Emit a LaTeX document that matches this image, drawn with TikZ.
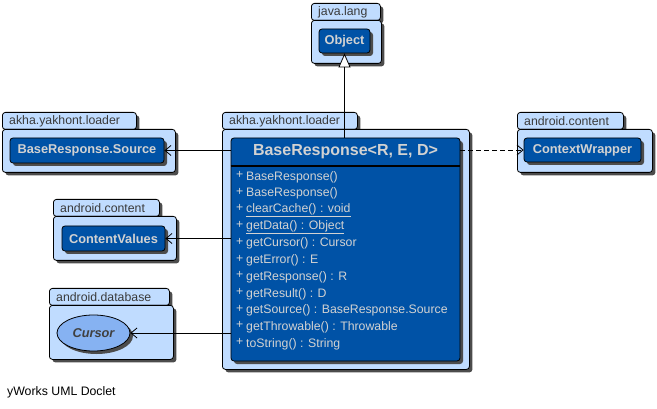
\documentclass[tikz,border=0pt]{standalone}
\usepackage{fontspec}
\setmainfont{Liberation Sans}
\usetikzlibrary{arrows.meta, positioning, shadows, calc, shapes.geometric}
\definecolor{pkgFill}{HTML}{C0DCFF}
\definecolor{clsFill}{HTML}{0052A6}
\definecolor{clsText}{HTML}{D2D2D2}
\definecolor{ifcFill}{HTML}{86B2F2}
\definecolor{pkgText}{HTML}{3A3A3A}

\tikzset{
  shade3/.style={drop shadow={shadow xshift=3pt, shadow yshift=-3pt, fill=black!70, opacity=1}},
  pkgtab/.style={draw, line width=0.8pt, fill=pkgFill, rounded corners=3pt, shade3,
    anchor=north west, inner sep=0pt, minimum height=17pt},
  pkgbody/.style={draw, line width=0.8pt, fill=pkgFill, rounded corners=3pt, shade3,
    anchor=north west, inner sep=0pt},
  pkglabel/.style={anchor=west, inner sep=0pt, text=pkgText, font=\fontsize{12.3}{14}\selectfont},
  cls/.style={draw, line width=0.8pt, fill=clsFill, rounded corners=3pt, shade3,
    inner sep=0pt, text=clsText, font=\bfseries\fontsize{12.8}{15}\selectfont},
  ifc/.style={ellipse, draw, line width=0.8pt, fill=ifcFill, shade3,
    inner sep=0pt, text=black!75, font=\bfseries\itshape\fontsize{12.8}{15}\selectfont},
  member/.style={anchor=west, inner sep=0pt, text=clsText, font=\fontsize{12.3}{14}\selectfont},
  assoc/.style={line width=0.8pt, -{Straight Barb[length=6pt, width=10pt]}},
  depend/.style={assoc, dash pattern=on 5pt off 3pt},
  extends/.style={line width=0.8pt, -{Triangle[open, length=14pt, width=12pt, fill=white]}}
}

\begin{document}
\begin{tikzpicture}[x=1pt, y=-1pt]
  \useasboundingbox (0,0) rectangle (657,409);

  % packages
  \foreach \n/\x/\y/\tw/\bw/\bh/\lbl in
    {pjava/311/3/69/70/43/java.lang,
     pload/2/112/134/173/43/akha.yakhont.loader,
     pmain/222/112/135/247/240/akha.yakhont.loader,
     pctx/517/112/106/135/43/android.content,
     pcv/53/199/106/123/44/android.content,
     pdb/49/288/120/124/54/android.database} {
    \node[pkgtab, minimum width=\tw*1pt] (\n-tab) at (\x,\y) {};
    \node[pkgbody, minimum width=\bw*1pt, minimum height=\bh*1pt] (\n) at (\x,\y+17) {};
    \node[pkglabel] at (\x+7,\y+9) {\lbl};
  }

  % classes
  \node[cls, minimum width=51pt, minimum height=24pt] (obj) at (344.5,41) {Object};
  \node[cls, minimum width=154pt, minimum height=25pt] (src) at (87,150.5) {BaseResponse.Source};
  \node[cls, minimum width=117pt, minimum height=24pt] (cw) at (582.5,150) {ContextWrapper};
  \node[cls, minimum width=103pt, minimum height=25pt] (cv) at (113.5,238.5) {ContentValues};
  \node[ifc, minimum width=73pt, minimum height=36pt] (cur) at (93.5,333) {Cursor};

  % main class
  \node[cls, minimum width=229pt, minimum height=223pt] (main) at (345.5,249.5) {};
  \node[inner sep=0pt, text=clsText, font=\bfseries\fontsize{16}{18}\selectfont]
    (title) at (345.5,152) {BaseResponse<R, E, D>};
  \coordinate (div) at (0,166);
  \draw[line width=1.6pt] (main.west |- div) -- (main.east |- div);
  \foreach \m [count=\i from 0] in
    {BaseResponse(), BaseResponse(), \underline{clearCache() : void},
     \underline{getData() : Object}, getCursor() : Cursor, getError() : E,
     getResponse() : R, getResult() : D, getSource() : BaseResponse.Source,
     getThrowable() : Throwable, toString() : String} {
    \node[member] (plus\i) at (236,175+\i*16.7) {+};
    \node[member] (m\i) at (246,177+\i*16.7) {\m};
  }

  % connectors
  \draw[extends] (obj.south |- main.north) -- (obj.south);
  \draw[assoc] (main.west |- src.east) -- (src.east);
  \draw[assoc] (main.west |- cv.east) -- (cv.east);
  \draw[assoc] (main.west |- cur.east) -- (cur.east);
  \draw[depend] (main.east |- cw.west) -- (cw.west);

  \node[anchor=west, inner sep=0pt, font=\fontsize{12.3}{14}\selectfont] (footer) at (7,392) {yWorks UML Doclet};
\end{tikzpicture}
\end{document}
